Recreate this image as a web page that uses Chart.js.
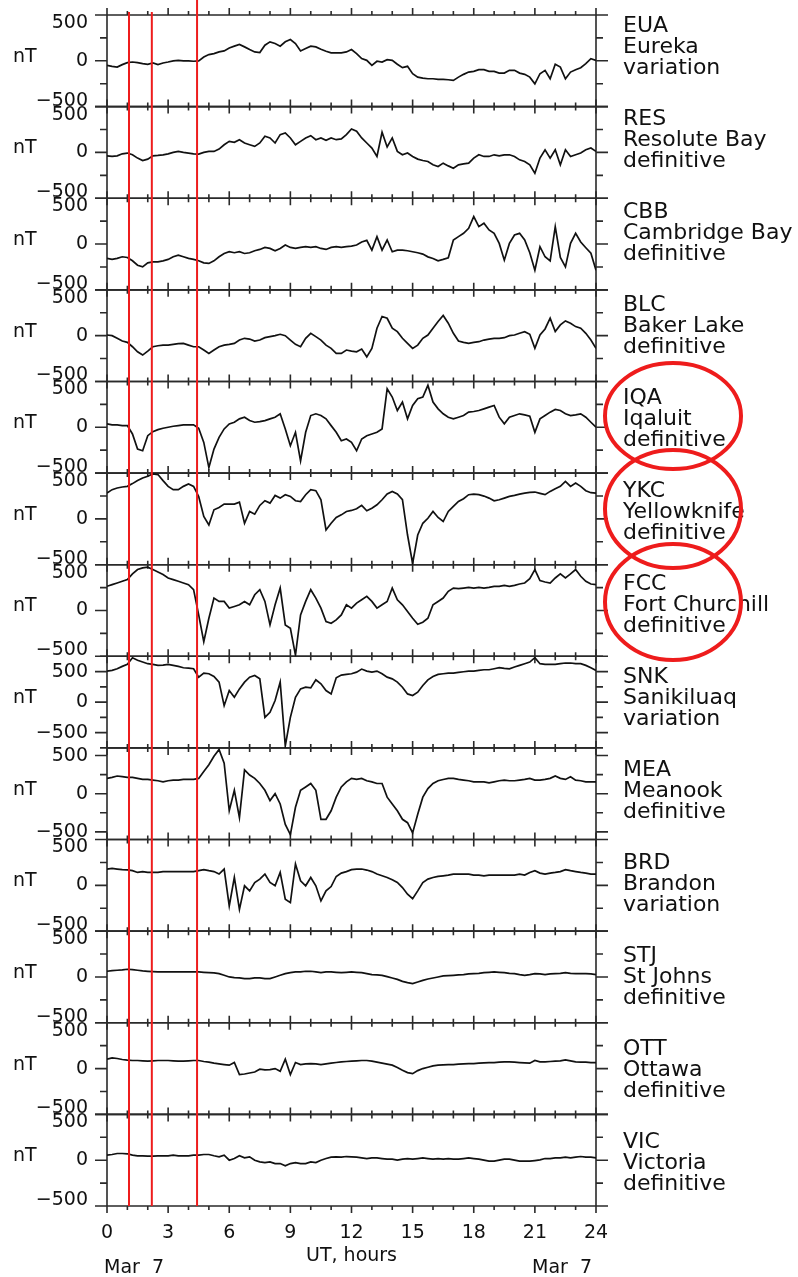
<!DOCTYPE html>
<html>
<head>
<meta charset="utf-8">
<script src="https://cdn.jsdelivr.net/npm/chart.js@4.4.1/dist/chart.umd.min.js"></script>
<style>
  html, body { margin: 0; padding: 0; background: #fff; }
  canvas { display: block; }
</style>
</head>
<body>
<canvas id="magChart" width="798" height="1277"></canvas>
<script>
// stations, top to bottom
const stationCodes = ['EUA', 'RES', 'CBB', 'BLC', 'IQA', 'YKC', 'FCC', 'SNK', 'MEA', 'BRD', 'STJ', 'OTT', 'VIC'];
const stationNames = ['Eureka', 'Resolute Bay', 'Cambridge Bay', 'Baker Lake', 'Iqaluit', 'Yellowknife',
  'Fort Churchill', 'Sanikiluaq', 'Meanook', 'Brandon', 'St Johns', 'Ottawa', 'Victoria'];
const dataTypes = ['variation', 'definitive', 'definitive', 'definitive', 'definitive', 'definitive',
  'definitive', 'variation', 'definitive', 'variation', 'definitive', 'definitive', 'definitive'];
const yLimits = [500, 500, 500, 500, 500, 500, 500, 750, 600, 500, 500, 500, 500];
const yLabelValues = [500, 0, -500];

// UT hours, one sample every 15 minutes
const hours = Array.from({ length: 97 }, (_, k) => k / 4);
const hourTicks = [0, 3, 6, 9, 12, 15, 18, 21, 24];
const eventHours = [1.08, 2.2, 4.42];
const circledStations = ['IQA', 'YKC', 'FCC'];

// nT, four values per hour
const EUA = [-50, -60, -68, -42, -20, -13, -20, -31, -38, -24, -42, -24, -13, 0, 5, 0,
  0, -5, 0, 42, 68, 79, 97, 108, 140, 160, 178, 152, 123, 97, 90, 170,
  207, 189, 160, 207, 232, 189, 108, 134, 160, 152, 126, 104, 86, 86, 86, 97,
  123, 79, 24, 5, -50, -5, -13, 13, 5, -38, -75, -60, -141, -178, -189, -196,
  -196, -203, -203, -207, -214, -178, -148, -123, -115, -97, -97, -115, -115, -134, -134, -104,
  -104, -134, -148, -178, -251, -141, -104, -196, -38, -68, -196, -123, -97, -75, -31, 24, 5];
const RES = [-37, -44, -37, -15, -7, -26, -62, -88, -73, -37, -33, -26, -15, 0, 11, 0,
  -7, -15, -18, 0, 11, 11, 37, 84, 121, 110, 139, 103, 84, 66, 103, 176,
  158, 103, 194, 212, 158, 84, 121, 158, 183, 139, 158, 132, 158, 139, 147, 194,
  256, 231, 158, 103, 48, -44, 220, 59, 158, 11, -26, -7, -44, -73, -88, -99,
  -135, -154, -117, -147, -172, -135, -125, -117, -62, -26, -44, -44, -26, -37, -26, -26,
  -44, -81, -99, -135, -227, -62, 29, -62, 29, -135, 29, -44, -26, -7, 29, 48, 11];
const CBB = [-157, -168, -157, -139, -147, -183, -231, -249, -205, -194, -194, -183, -168, -139, -121, -139,
  -157, -168, -183, -205, -212, -183, -139, -103, -84, -95, -84, -103, -95, -73, -59, -37,
  -48, -73, -48, -11, -37, -48, -37, -29, -37, -29, -48, -59, -37, -29, -37, -29,
  -22, -11, 22, 40, -66, 81, -66, 44, -84, -66, -66, -73, -84, -95, -110, -140,
  -157, -183, -168, -150, 44, 81, 117, 172, 300, 190, 227, 154, 117, 7, -176, 7,
  99, 117, 44, -95, -286, -29, -139, -183, 190, -147, -250, 7, 117, 22, -40, -100, -286];
const BLC = [7, 0, -29, -59, -73, -121, -176, -212, -168, -121, -110, -103, -103, -95, -88, -84,
  -103, -121, -121, -157, -194, -157, -121, -103, -95, -84, -48, -29, -37, -59, -48, -22,
  -11, 0, 15, 0, -48, -95, -121, -29, 26, -11, -48, -103, -139, -194, -194, -157,
  -168, -176, -147, -231, -139, 81, 209, 190, 81, 44, -29, -84, -139, -103, -29, 7,
  81, 154, 220, 136, 26, -59, -73, -84, -73, -66, -48, -37, -29, -29, -22, 0,
  7, 26, 44, 15, -139, 7, 73, 190, 44, 117, 161, 136, 99, 81, 26, -48, -139];
const IQA = [37, 26, 26, 18, 18, -73, -238, -256, -92, -48, -26, -11, 0, 11, 18, 26,
  26, 26, -11, -165, -440, -238, -110, -18, 37, 55, 92, 110, 73, 55, 62, 73,
  92, 110, 147, -18, -201, -55, -366, -55, 128, 147, 128, 92, 18, -55, -147, -128,
  -165, -256, -128, -92, -73, -55, -18, 421, 330, 183, 275, 92, 238, 311, 330, 458,
  275, 201, 147, 110, 92, 110, 128, 165, 172, 183, 201, 220, 238, 110, 37, 110,
  128, 147, 136, 121, -55, 92, 128, 165, 194, 183, 147, 128, 136, 147, 110, 55, 0];
const YKC = [282, 319, 337, 348, 355, 385, 418, 447, 465, 491, 484, 418, 355, 319, 319, 355,
  381, 355, 245, 26, -66, 99, 125, 161, 161, 161, 183, -48, 81, 51, 147, 198,
  172, 256, 227, 264, 245, 198, 190, 264, 319, 308, 209, -121, -48, 15, 44, 81,
  92, 110, 147, 88, 117, 154, 209, 271, 300, 271, 209, -176, -487, -176, -48, 7,
  81, 15, -29, 81, 136, 190, 220, 264, 271, 264, 249, 227, 198, 209, 227, 245,
  256, 271, 282, 289, 293, 278, 264, 300, 330, 355, 410, 355, 392, 355, 308, 286, 282];
const FCC = [264, 282, 300, 319, 337, 399, 447, 465, 473, 447, 421, 392, 355, 337, 319, 300,
  282, 227, -48, -340, -84, 136, 99, 99, 26, 44, 62, 99, 62, 172, 227, 99,
  -157, 62, 245, -157, -194, -487, -48, 99, 227, 136, 26, -121, -139, -103, -48, 62,
  26, 81, 117, 154, 99, 26, 62, 99, 245, 117, 62, -11, -84, -150, -128, -84,
  62, 99, 136, 209, 245, 238, 245, 253, 245, 253, 245, 253, 264, 264, 275, 264,
  275, 289, 300, 348, 447, 326, 311, 300, 355, 399, 355, 399, 447, 374, 319, 289, 282];
const SNK = [508, 519, 546, 585, 618, 727, 684, 656, 629, 618, 601, 607, 618, 601, 585, 563,
  557, 546, 409, 475, 464, 420, 327, -58, 189, 80, 217, 327, 409, 436, 381, -250,
  -167, 25, 327, -716, -250, 80, 217, 244, 233, 365, 299, 189, 134, 398, 442, 453,
  464, 491, 541, 508, 491, 508, 464, 409, 381, 327, 244, 134, 107, 162, 272, 365,
  420, 453, 464, 475, 475, 486, 497, 508, 508, 519, 530, 530, 546, 563, 552, 546,
  574, 601, 629, 656, 727, 629, 618, 618, 618, 629, 640, 640, 629, 629, 601, 563, 519];
const MEA = [201, 214, 232, 223, 214, 214, 201, 187, 187, 178, 170, 156, 170, 178, 178, 187,
  187, 187, 201, 290, 379, 491, 580, 401, -223, 45, -312, 312, 245, 201, 134, 45,
  -89, 0, -134, -401, -535, -178, 45, 89, 134, 45, -335, -335, -223, -45, 89, 156,
  201, 187, 201, 170, 156, 134, 134, -45, -134, -223, -335, -379, -513, -268, -45, 67,
  134, 170, 187, 201, 201, 187, 178, 170, 156, 156, 156, 143, 156, 170, 178, 170,
  170, 178, 187, 201, 178, 178, 187, 201, 232, 201, 187, 223, 178, 170, 156, 156, 156];
const BRD = [178, 185, 178, 172, 168, 161, 141, 150, 141, 141, 141, 150, 150, 150, 150, 150,
  150, 150, 161, 172, 160, 150, 123, 178, -225, 86, -262, -5, -60, 31, 68, 123,
  31, -5, 141, -152, -189, 233, 49, -5, 86, -5, -170, -60, -13, 97, 134, 150,
  172, 178, 178, 167, 150, 123, 104, 86, 60, 31, -24, -97, -145, -60, 31, 68,
  86, 97, 104, 112, 123, 123, 123, 123, 112, 112, 104, 112, 112, 112, 112, 112,
  112, 123, 112, 141, 160, 134, 123, 134, 141, 150, 172, 160, 150, 141, 134, 123, 123];
const STJ = [62, 70, 73, 77, 84, 81, 73, 66, 62, 59, 55, 55, 55, 55, 55, 55,
  55, 55, 55, 51, 48, 44, 37, 18, 0, -7, -11, -18, -18, -11, -11, -18,
  -18, 0, 18, 37, 48, 55, 55, 62, 62, 55, 48, 55, 55, 51, 48, 51,
  55, 51, 48, 37, 26, 22, 18, 4, -11, -26, -48, -62, -73, -55, -37, -22,
  -11, 0, 11, 15, 18, 22, 26, 33, 37, 40, 48, 51, 55, 51, 48, 40,
  37, 26, 18, 26, 37, 33, 26, 33, 37, 40, 48, 40, 37, 37, 37, 33, 26];
const OTT = [103, 117, 110, 99, 92, 88, 88, 84, 81, 84, 88, 88, 88, 84, 81, 81,
  84, 88, 88, 77, 70, 59, 51, 44, 37, 66, -66, -59, -48, -37, -7, -15,
  -11, 0, -29, 103, -66, 66, 44, 51, 55, 51, 44, 51, 59, 66, 73, 77,
  81, 84, 88, 88, 81, 70, 59, 48, 37, 11, -18, -44, -55, -22, 0, 15,
  29, 37, 40, 44, 44, 48, 51, 55, 55, 59, 62, 66, 66, 70, 73, 73,
  70, 66, 62, 59, 88, 73, 73, 77, 81, 84, 95, 84, 73, 70, 70, 66, 66];
const VIC = [55, 62, 73, 73, 70, 55, 48, 48, 44, 44, 48, 48, 48, 55, 48, 48,
  48, 55, 55, 62, 62, 48, 37, 55, 0, 18, 48, 26, 37, 0, -18, -26,
  -18, -37, -37, -62, -37, -26, -37, -37, -18, -26, 0, 18, 33, 37, 33, 40,
  37, 33, 26, 18, 26, 26, 18, 11, 11, 0, 11, 18, 11, 18, 26, 18,
  11, 18, 11, 18, 11, 11, 18, 26, 18, 11, 0, -11, -11, 0, 11, 11,
  0, -11, -11, -11, -4, 4, 18, 18, 26, 26, 33, 26, 33, 40, 33, 33, 26];

const seriesByStation = [EUA, RES, CBB, BLC, IQA, YKC, FCC, SNK, MEA, BRD, STJ, OTT, VIC];

const INK = '#111';
const LABEL_FONT = '19px "DejaVu Sans"';
const NAME_FONT = '22px "DejaVu Sans"';

// one y axis per station, all stacked in the same column
const hidden = { grid: { display: false, drawTicks: false }, border: { display: false }, ticks: { display: false } };
const scales = { x: Object.assign({ type: 'linear', min: 0, max: 24 }, hidden) };
for (let i = stationCodes.length - 1; i >= 0; i--) {
  scales['y' + i] = Object.assign({
    type: 'linear', position: 'left', stack: 'stations', stackWeight: 1,
    min: -yLimits[i], max: yLimits[i]
  }, hidden);
}

const datasets = stationCodes.map((code, i) => ({
  label: code,
  yAxisID: 'y' + i,
  data: hours.map((h, k) => ({ x: h, y: seriesByStation[i][k] })),
  borderColor: INK,
  borderWidth: 1.7,
  pointRadius: 0,
  tension: 0
}));

const panelFrame = {
  id: 'panelFrame',
  beforeDatasetsDraw(chart) {
    const { ctx, chartArea: area } = chart;
    const xs = chart.scales.x;
    ctx.save();
    ctx.strokeStyle = '#2a2a2a';
    ctx.fillStyle = INK;
    ctx.lineWidth = 1.6;

    ctx.beginPath();
    ctx.moveTo(area.left, area.top); ctx.lineTo(area.left, area.bottom);
    ctx.moveTo(area.right, area.top); ctx.lineTo(area.right, area.bottom);
    ctx.stroke();

    stationCodes.forEach((code, i) => {
      const ys = chart.scales['y' + i];
      ctx.beginPath();
      ctx.moveTo(area.left, ys.top); ctx.lineTo(area.right, ys.top);
      ctx.moveTo(area.left, ys.bottom); ctx.lineTo(area.right, ys.bottom);
      // hour ticks, outward on both edges of the panel
      for (let h = 0; h <= 24; h++) {
        const x = xs.getPixelForValue(h);
        const len = h % 3 === 0 ? 7 : 4;
        ctx.moveTo(x, ys.top); ctx.lineTo(x, ys.top - len);
        ctx.moveTo(x, ys.bottom); ctx.lineTo(x, ys.bottom + len);
      }
      // nT ticks every 250, outward on both sides
      const lim = yLimits[i];
      for (let v = -Math.floor(lim / 250) * 250; v <= lim; v += 250) {
        const y = ys.getPixelForValue(v);
        const len = v % 500 === 0 ? 12 : 7;
        ctx.moveTo(area.left - len, y); ctx.lineTo(area.left, y);
        ctx.moveTo(area.right, y); ctx.lineTo(area.right + len, y);
      }
      ctx.stroke();

      ctx.font = LABEL_FONT;
      ctx.textBaseline = 'middle';
      ctx.textAlign = 'right';
      yLabelValues.forEach(v => {
        const y = Math.min(Math.max(ys.getPixelForValue(v), ys.top + 8), ys.bottom - 6);
        ctx.fillText(v < 0 ? '\u2212' + Math.abs(v) : String(v), area.left - 19, y);
      });
      ctx.textAlign = 'left';
      ctx.fillText('nT', 13, ys.getPixelForValue(0) - 4);

      ctx.font = NAME_FONT;
      const ty = area.top + 11 + i * 93;
      ctx.fillText(code, 623, ty);
      ctx.fillText(stationNames[i], 623, ty + 21);
      ctx.fillText(dataTypes[i], 623, ty + 42);
    });

    ctx.font = LABEL_FONT;
    ctx.textAlign = 'center';
    hourTicks.forEach(h => ctx.fillText(String(h), xs.getPixelForValue(h), area.bottom + 27));
    ctx.fillText('UT, hours', (area.left + area.right) / 2, area.bottom + 50);
    ctx.textAlign = 'left';
    ctx.fillText('Mar  7', area.left - 3, area.bottom + 62);
    ctx.textAlign = 'right';
    ctx.fillText('Mar  7', area.right - 4, area.bottom + 62);
    ctx.restore();
  },
  afterDraw(chart) {
    const { ctx, chartArea: area } = chart;
    const xs = chart.scales.x;
    ctx.save();
    ctx.strokeStyle = '#ee1c1c';
    ctx.lineWidth = 2;
    eventHours.forEach((h, k) => {
      const x = xs.getPixelForValue(h);
      ctx.beginPath();
      ctx.moveTo(x, k === eventHours.length - 1 ? 0 : area.top - 3);
      ctx.lineTo(x, area.bottom);
      ctx.stroke();
    });
    ctx.lineWidth = 4;
    const radiiY = [53, 59, 58];
    circledStations.forEach((code, k) => {
      const i = stationCodes.indexOf(code);
      const cy = area.top + 11 + i * 93 + 18;
      ctx.beginPath();
      ctx.ellipse(673, cy, 68, radiiY[k], 0, 0, Math.PI * 2);
      ctx.stroke();
    });
    ctx.restore();
  }
};

new Chart(document.getElementById('magChart'), {
  type: 'line',
  data: { datasets },
  options: {
    responsive: false,
    animation: false,
    devicePixelRatio: 1,
    layout: { padding: { left: 107, right: 202, top: 15, bottom: 71 } },
    scales,
    plugins: { legend: { display: false }, tooltip: { enabled: false } }
  },
  plugins: [panelFrame]
});
</script>
</body>
</html>
